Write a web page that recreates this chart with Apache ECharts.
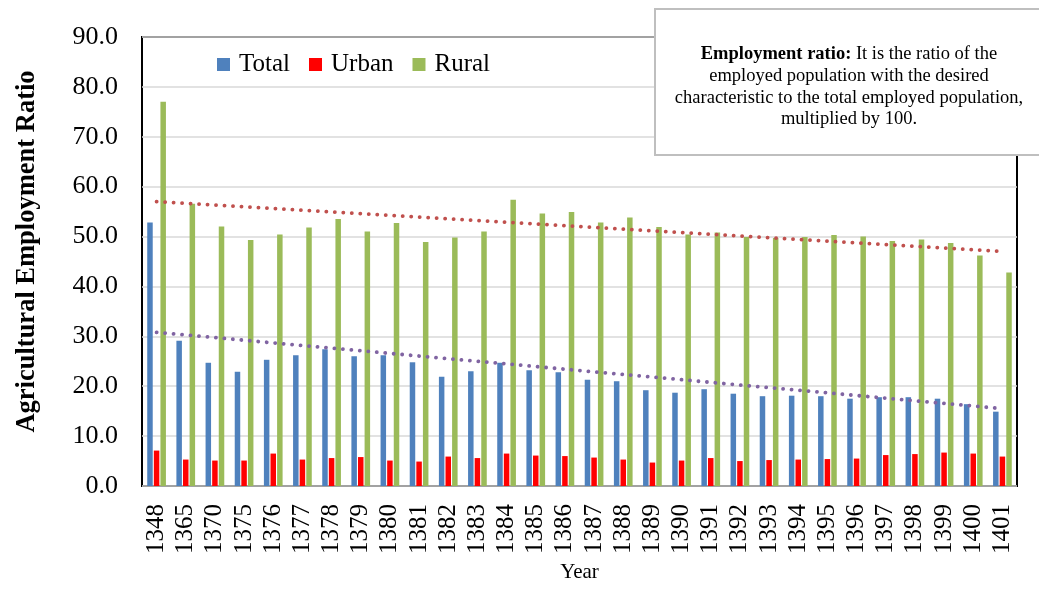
<!DOCTYPE html>
<html>
<head>
<meta charset="utf-8">
<script src="https://cdn.jsdelivr.net/npm/echarts@6/dist/echarts.min.js"></script>
<style>
  html, body { margin: 0; padding: 0; background: #fff; }
  #chart { width: 1039px; height: 589px; }
</style>
</head>
<body>
<div id="chart"></div>
<script>
// data
var years = ["1348", "1365", "1370", "1375", "1376", "1377", "1378", "1379", "1380", "1381",
  "1382", "1383", "1384", "1385", "1386", "1387", "1388", "1389", "1390", "1391",
  "1392", "1393", "1394", "1395", "1396", "1397", "1398", "1399", "1400", "1401"];
var total = [52.8, 29.1, 24.7, 22.9, 25.3, 26.2, 27.4, 26.0, 26.2, 24.8,
  21.9, 23.0, 24.7, 23.2, 22.8, 21.3, 21.0, 19.2, 18.7, 19.4,
  18.5, 18.0, 18.1, 18.0, 17.5, 17.8, 17.8, 17.5, 16.4, 14.9];
var urban = [7.1, 5.3, 5.1, 5.1, 6.5, 5.3, 5.6, 5.8, 5.1, 4.9,
  5.9, 5.6, 6.5, 6.1, 6.0, 5.7, 5.3, 4.7, 5.1, 5.6,
  5.0, 5.2, 5.3, 5.4, 5.5, 6.2, 6.4, 6.7, 6.5, 5.9];
var rural = [77.0, 56.6, 52.0, 49.3, 50.4, 51.8, 53.5, 51.0, 52.7, 48.9,
  49.8, 51.0, 57.4, 54.6, 54.9, 52.8, 53.8, 51.9, 50.4, 50.8,
  49.9, 49.7, 49.9, 50.3, 50.0, 49.1, 49.4, 48.7, 46.2, 42.8];
// trendline end values (first year, last year)
var ruralTrend = [57.0, 47.0];
var totalTrend = [30.8, 15.5];

var serif = "'Liberation Serif', 'Times New Roman', serif";
var last = years.length - 1;

function trend(name, ends, color) {
  return {
    name: name,
    type: "line",
    symbol: "none",
    silent: true,
    z: 5,
    lineStyle: { color: color, width: 3.8, type: [0.1, 8.4], cap: "round" },
    data: [[years[0], ends[0]], [years[last], ends[1]]]
  };
}

var chart = echarts.init(document.getElementById("chart"));
chart.setOption({
  animation: false,
  backgroundColor: "#fff",
  grid: {
    left: 142, right: 22, top: 37, bottom: 103,
    containLabel: false, outerBoundsMode: "none",
    show: true, borderColor: "#000", borderWidth: 2
  },
  legend: {
    data: ["Total", "Urban", "Rural"],
    left: 212, top: 47,
    icon: "rect", itemWidth: 13, itemHeight: 13, itemGap: 19,
    textStyle: { fontFamily: serif, fontSize: 25, color: "#000", padding: [0, 0, 0, 4] }
  },
  xAxis: {
    type: "category",
    data: years,
    name: "Year",
    nameLocation: "middle",
    nameGap: 74,
    nameTextStyle: { fontFamily: serif, fontSize: 21, color: "#000" },
    axisLine: { show: false },
    axisTick: { show: false },
    axisLabel: { rotate: 90, interval: 0, margin: 18, fontFamily: serif, fontSize: 25, color: "#000" },
    splitLine: { show: false }
  },
  yAxis: {
    type: "value",
    min: 0, max: 90, interval: 10,
    name: "Agricultural Employment Ratio",
    nameLocation: "middle",
    nameRotate: 90,
    nameGap: 101,
    nameTextStyle: { fontFamily: serif, fontSize: 26.5, fontWeight: "bold", color: "#000", padding: [0, 0, 0, 20] },
    axisLine: { show: false },
    axisTick: { show: false },
    axisLabel: {
      margin: 24, fontFamily: serif, fontSize: 26, color: "#000",
      formatter: function (v) { return v.toFixed(1); }
    },
    splitLine: { lineStyle: { color: "#d9d9d9", width: 1.5 } }
  },
  series: [
    { name: "Total", type: "bar", data: total, barWidth: 5.5, barGap: "20%", itemStyle: { color: "#4f81bd" } },
    { name: "Urban", type: "bar", data: urban, barWidth: 5.5, barGap: "20%", itemStyle: { color: "#ff0000" } },
    { name: "Rural", type: "bar", data: rural, barWidth: 5.5, barGap: "20%", itemStyle: { color: "#9bbb59" } },
    trend("Rural trend", ruralTrend, "#c0504d"),
    trend("Total trend", totalTrend, "#8064a2")
  ],
  graphic: [
    {
      type: "rect", z: 100,
      shape: { x: 655, y: 9, width: 400, height: 146 },
      style: { fill: "#fff", stroke: "#bfbfbf", lineWidth: 2 }
    },
    {
      type: "text", z: 101,
      x: 849, y: 87,
      style: {
        text: "{b|Employment ratio:} It is the ratio of the\nemployed population with the desired\ncharacteristic to the total employed population,\nmultiplied by 100.",
        align: "center", verticalAlign: "middle",
        font: "18.5px " + serif, fill: "#000", lineHeight: 21.7,
        rich: {
          b: { fontWeight: "bold", fontFamily: serif, fontSize: 18.5, lineHeight: 21.7 }
        }
      }
    }
  ]
});
</script>
</body>
</html>
